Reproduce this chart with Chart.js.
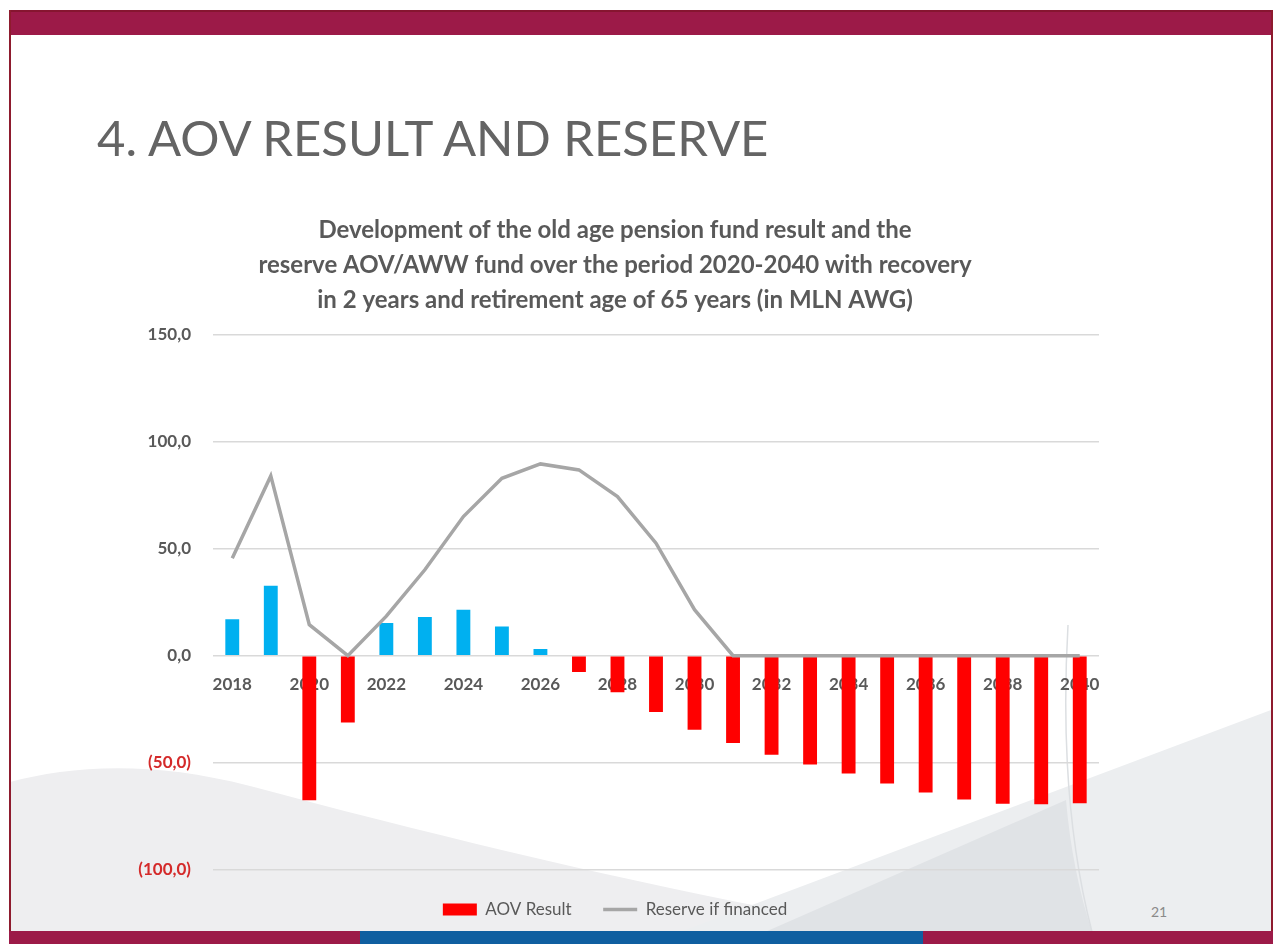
<!DOCTYPE html>
<html>
<head>
<meta charset="utf-8">
<script src="https://cdn.jsdelivr.net/npm/chart.js@4.4.1/dist/chart.umd.min.js"></script>
<style>
  html, body { margin: 0; padding: 0; background: #ffffff; }
  body { width: 1283px; height: 944px; position: relative; overflow: hidden; font-family: Lato, "Open Sans", sans-serif; }
  #deco { position: absolute; left: 0; top: 0; }
  .bar { position: absolute; }
  #slideTitle { position: absolute; left: 97px; white-space: nowrap; color: #646464; font-family: Lato, sans-serif; font-weight: 400; line-height: 1; }
  #pageNo { position: absolute; left: 1151px; top: 903px; font-family: Lato, sans-serif; font-size: 14px; color: #8a8a8a; }
  #wrap { position: absolute; left: 131px; top: 195px; width: 989px; height: 733px; }
</style>
</head>
<body>
<svg id="deco" width="1283" height="944" viewBox="0 0 1283 944">
  <path d="M10,782 C 70,766 150,760 250,786 C 450,840 700,900 905,932 L10,932 Z" fill="#eeeef0"/>
  <path d="M680,932 L1271,710 L1271,932 Z" fill="#eceef0"/>
  <path d="M765,932 L1066,800 Q1072,870 1092,932 Z" fill="#e0e3e6"/>
  <path d="M1068,625 Q1058,800 1092,932" stroke="#dcdfe2" stroke-width="1.5" fill="none"/>
</svg>
<div class="bar" style="left:9px;top:10px;width:1264px;height:25px;background:#9c1a48;"></div>
<div class="bar" style="left:9px;top:10px;width:1264px;height:2px;background:#861530;"></div>
<div class="bar" style="left:9px;top:10px;width:2px;height:934px;background:#8e1b2e;"></div>
<div class="bar" style="left:1271px;top:10px;width:2px;height:934px;background:#8e1b2e;"></div>
<div class="bar" style="left:9px;top:931px;width:351px;height:13px;background:#9c1a48;"></div>
<div class="bar" style="left:360px;top:931px;width:563px;height:13px;background:#0f5fa0;"></div>
<div class="bar" style="left:923px;top:931px;width:350px;height:13px;background:#9c1a48;"></div>
<div id="slideTitle">4. AOV RESULT AND RESERVE</div>
<div id="pageNo">21</div>
<div id="wrap"><canvas id="c"></canvas></div>
<script>
const years = ['2018','2019','2020','2021','2022','2023','2024','2025','2026','2027','2028','2029','2030','2031','2032','2033','2034','2035','2036','2037','2038','2039','2040'];
const aovResult = [17.1, 32.7, -67.6, -31.2, 15.3, 18.1, 21.5, 13.7, 3.1, -7.6, -17.1, -26.3, -34.6, -40.8, -46.3, -50.9, -55.1, -59.8, -64.0, -67.3, -69.2, -69.5, -69.0];
const reserveIfFinanced = [45.6, 84.1, 14.5, 0, 18.5, 40.2, 65.1, 83.0, 89.7, 86.9, 74.4, 52.6, 21.5, 0, 0, 0, 0, 0, 0, 0, 0, 0, 0];
const yTickValues = [150, 100, 50, 0, -50, -100];
const titleLines = [
  'Development of the old age pension fund result and the',
  'reserve AOV/AWW fund over the period 2020-2040 with recovery',
  'in 2 years and retirement age of 65 years (in MLN AWG)'
];
const seriesNames = ['AOV Result', 'Reserve if financed'];

const POS = '#00b0f0', NEG = '#ff0000', LINE = '#a6a6a6', TXT = '#595959', NEGTXT = '#d42a2a';

// fit text sizes to the reference widths
const mctx = document.createElement('canvas').getContext('2d');
function fitSize(text, weight, target) {
  mctx.font = weight + ' 100px Lato';
  return 100 * target / mctx.measureText(text).width;
}
const titleSize = Math.min(24, fitSize(titleLines[1], 'bold', 771));
const st = document.getElementById('slideTitle');
const stSize = fitSize(st.textContent, '400', 678);
st.style.fontSize = stSize + 'px';
st.style.top = (156 - 0.887 * stSize) + 'px';

function fmt(v) {
  const s = Math.abs(v).toFixed(1).replace('.', ',');
  return v < 0 ? '(' + s + ')' : s;
}

const chart = new Chart(document.getElementById('c'), {
  data: {
    labels: years,
    datasets: [
      {
        type: 'bar',
        label: seriesNames[0],
        data: aovResult,
        backgroundColor: aovResult.map(v => v < 0 ? NEG : POS),
        borderWidth: 0,
        barPercentage: 0.36,
        categoryPercentage: 1.0,
        order: 1,
        pointStyle: 'rect'
      },
      {
        type: 'line',
        label: seriesNames[1],
        data: reserveIfFinanced,
        borderColor: LINE,
        backgroundColor: LINE,
        borderWidth: 3.5,
        pointRadius: 0,
        tension: 0,
        order: 0,
        pointStyle: 'line'
      }
    ]
  },
  options: {
    responsive: true,
    maintainAspectRatio: false,
    animation: false,
    layout: { padding: { left: 0, right: 21, top: 0, bottom: 0 } },
    plugins: {
      tooltip: { enabled: false },
      title: {
        display: true,
        text: titleLines,
        color: TXT,
        font: { family: 'Lato', weight: 'bold', size: titleSize, lineHeight: 35 / titleSize },
        padding: { top: 17.5, bottom: 17.5 }
      },
      legend: {
        position: 'bottom',
        labels: {
          usePointStyle: true,
          pointStyleWidth: 34,
          boxHeight: 12,
          padding: 31.5,
          color: TXT,
          font: { family: 'Lato', size: 17 },
          generateLabels: function (ch) {
            const items = Chart.defaults.plugins.legend.labels.generateLabels(ch);
            items.sort((a, b) => a.datasetIndex - b.datasetIndex);
            items.forEach(it => {
              if (it.datasetIndex === 0) { it.fillStyle = NEG; it.strokeStyle = NEG; it.lineWidth = 0; it.pointStyle = 'rect'; }
              else { it.strokeStyle = LINE; it.lineWidth = 3.5; it.pointStyle = 'line'; }
            });
            return items;
          }
        }
      }
    },
    scales: {
      x: {
        position: { y: 0 },
        grid: { display: false, drawTicks: false },
        border: { display: false },
        ticks: {
          autoSkip: false,
          maxRotation: 0,
          padding: 19,
          color: TXT,
          font: { family: 'Lato', weight: 'bold', size: 17 },
          callback: function (v, i) { return i % 2 === 0 ? years[i] : ''; }
        }
      },
      y: {
        min: -100,
        max: 150,
        afterFit: function (s) { s.width = 82; },
        afterBuildTicks: function (s) { s.ticks = yTickValues.slice().reverse().map(v => ({ value: v })); },
        grid: { color: '#d9d9d9', lineWidth: 1.5, drawTicks: false },
        border: { display: false },
        ticks: {
          padding: 22,
          font: { family: 'Lato', weight: 'bold', size: 17 },
          color: c => (c.tick && c.tick.value < 0) ? NEGTXT : TXT,
          callback: v => fmt(v)
        }
      }
    }
  }
});
</script>
</body>
</html>
